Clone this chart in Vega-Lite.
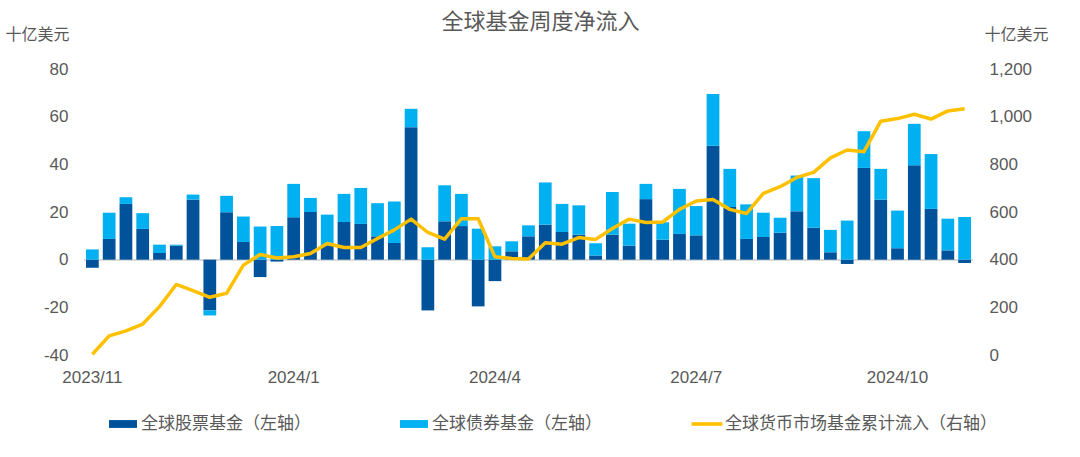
{
  "$schema": "https://vega.github.io/schema/vega-lite/v6.json",
  "width": 889,
  "height": 286,
  "autosize": "none",
  "padding": {"left": 84, "top": 69, "right": 107, "bottom": 102},
  "background": "white",
  "config": {
    "font": "Liberation Sans, Noto Sans CJK SC",
    "view": {"stroke": null},
    "axis": {"grid": false, "ticks": false, "domain": false, "labelColor": "#595959", "labelFontSize": 17, "labelFont": "Liberation Sans"}
  },
  "title": {"text": "全球基金周度净流入", "fontSize": 22, "font": "Noto Sans CJK SC", "fontWeight": "normal", "color": "#595959", "anchor": "middle", "frame": "group", "offset": -8, "dx": 12},
  "data": {"values": [
    {"d": "2023/11/1", "s1": -3.4, "s2": 4.3, "m": 3},
    {"d": "2023/11/8", "s1": 8.7, "s2": 11.0, "m": 80},
    {"d": "2023/11/15", "s1": 23.4, "s2": 2.8, "m": 101},
    {"d": "2023/11/22", "s1": 12.9, "s2": 6.6, "m": 130},
    {"d": "2023/11/29", "s1": 2.8, "s2": 3.5, "m": 203},
    {"d": "2023/12/6", "s1": 5.9, "s2": 0.4, "m": 296},
    {"d": "2023/12/13", "s1": 25.2, "s2": 2.1, "m": 270},
    {"d": "2023/12/20", "s1": -21.3, "s2": -2.1, "m": 242},
    {"d": "2023/12/27", "s1": 19.9, "s2": 6.9, "m": 259},
    {"d": "2024/1/3", "s1": 7.4, "s2": 10.7, "m": 377},
    {"d": "2024/1/10", "s1": -7.3, "s2": 13.9, "m": 422},
    {"d": "2024/1/17", "s1": -0.8, "s2": 14.1, "m": 407},
    {"d": "2024/1/24", "s1": 17.8, "s2": 14.0, "m": 412},
    {"d": "2024/1/31", "s1": 20.0, "s2": 5.9, "m": 426},
    {"d": "2024/2/7", "s1": 6.0, "s2": 12.9, "m": 468},
    {"d": "2024/2/14", "s1": 15.8, "s2": 11.8, "m": 451},
    {"d": "2024/2/21", "s1": 15.0, "s2": 15.1, "m": 451},
    {"d": "2024/2/28", "s1": 9.8, "s2": 13.9, "m": 489},
    {"d": "2024/3/6", "s1": 7.0, "s2": 17.4, "m": 525},
    {"d": "2024/3/13", "s1": 55.6, "s2": 7.7, "m": 570},
    {"d": "2024/3/20", "s1": -21.3, "s2": 5.2, "m": 514},
    {"d": "2024/3/27", "s1": 16.1, "s2": 15.1, "m": 486},
    {"d": "2024/4/3", "s1": 14.1, "s2": 13.5, "m": 572},
    {"d": "2024/4/10", "s1": -19.6, "s2": 13.0, "m": 572},
    {"d": "2024/4/17", "s1": -9.0, "s2": 5.6, "m": 412},
    {"d": "2024/4/24", "s1": 3.5, "s2": 4.2, "m": 405},
    {"d": "2024/5/1", "s1": 9.8, "s2": 4.6, "m": 403},
    {"d": "2024/5/8", "s1": 14.7, "s2": 17.7, "m": 471},
    {"d": "2024/5/15", "s1": 11.6, "s2": 11.8, "m": 465},
    {"d": "2024/5/22", "s1": 10.5, "s2": 12.3, "m": 493},
    {"d": "2024/5/29", "s1": 1.8, "s2": 5.1, "m": 485},
    {"d": "2024/6/5", "s1": 10.5, "s2": 17.9, "m": 531},
    {"d": "2024/6/12", "s1": 5.9, "s2": 9.2, "m": 570},
    {"d": "2024/6/19", "s1": 25.4, "s2": 6.4, "m": 556},
    {"d": "2024/6/26", "s1": 8.4, "s2": 7.3, "m": 558},
    {"d": "2024/7/3", "s1": 10.8, "s2": 18.9, "m": 611},
    {"d": "2024/7/10", "s1": 10.2, "s2": 12.3, "m": 646},
    {"d": "2024/7/17", "s1": 47.8, "s2": 21.7, "m": 652},
    {"d": "2024/7/24", "s1": 22.1, "s2": 16.0, "m": 611},
    {"d": "2024/7/31", "s1": 8.7, "s2": 14.5, "m": 594},
    {"d": "2024/8/7", "s1": 9.5, "s2": 10.2, "m": 678},
    {"d": "2024/8/14", "s1": 11.3, "s2": 6.3, "m": 706},
    {"d": "2024/8/21", "s1": 20.3, "s2": 15.0, "m": 745},
    {"d": "2024/8/28", "s1": 13.4, "s2": 20.8, "m": 766},
    {"d": "2024/9/4", "s1": 3.1, "s2": 9.4, "m": 827},
    {"d": "2024/9/11", "s1": -1.8, "s2": 16.4, "m": 860},
    {"d": "2024/9/18", "s1": 38.5, "s2": 15.4, "m": 853},
    {"d": "2024/9/25", "s1": 25.2, "s2": 12.9, "m": 981},
    {"d": "2024/10/2", "s1": 4.8, "s2": 15.8, "m": 992},
    {"d": "2024/10/9", "s1": 39.6, "s2": 17.4, "m": 1010},
    {"d": "2024/10/16", "s1": 21.3, "s2": 23.0, "m": 990},
    {"d": "2024/10/23", "s1": 3.9, "s2": 13.3, "m": 1024},
    {"d": "2024/10/30", "s1": -1.4, "s2": 17.9, "m": 1033}
  ]},
  "layer": [
    {
      "mark": {"type": "rule", "color": "#D9D9D9", "strokeWidth": 1.3},
      "encoding": {
        "y": {"datum": 0, "type": "quantitative", "scale": {"domain": [-40, 80]}, "axis": null}
      }
    },
    {
      "transform": [{"fold": ["s1", "s2"], "as": ["k", "v"]}],
      "mark": {"type": "bar"},
      "encoding": {
        "x": {
          "field": "d", "type": "ordinal", "sort": null,
          "scale": {"paddingInner": 0.24, "paddingOuter": 0.12},
          "axis": {
            "values": ["2023/11/1", "2024/1/24", "2024/4/17", "2024/7/10", "2024/10/2"],
            "labelExpr": "slice(datum.value, 0, lastindexof(datum.value, '/'))",
            "labelAngle": 0, "labelPadding": 14, "title": null
          }
        },
        "y": {
          "field": "v", "type": "quantitative", "stack": "zero",
          "scale": {"domain": [-40, 80]},
          "axis": {
            "values": [-40, -20, 0, 20, 40, 60, 80],
            "labelExpr": "datum.value + ''",
            "labelPadding": 16,
            "title": "十亿美元", "titleAngle": 0, "titleAlign": "left", "titleBaseline": "middle",
            "titleX": -79, "titleY": -35, "titleFontSize": 16, "titleFontWeight": "normal",
            "titleColor": "#595959", "titleFont": "Noto Sans CJK SC"
          }
        },
        "color": {
          "field": "k", "type": "nominal",
          "scale": {"domain": ["s1", "s2", "mmf"], "range": ["#00529B", "#00B0F0", "#FFC000"]},
          "legend": {
            "orient": "none", "legendX": 25, "legendY": 341, "direction": "horizontal", "title": null,
            "labelExpr": "datum.value == 's1' ? '全球股票基金（左轴）' : datum.value == 's2' ? '全球债券基金（左轴）' : '全球货币市场基金累计流入（右轴）'",
            "labelFont": "Noto Sans CJK SC", "labelFontSize": 17, "labelColor": "#595959", "labelLimit": 500,
            "labelOffset": 4, "columnPadding": 89, "symbolSize": 784,
            "encode": {
              "symbols": {
                "update": {
                  "shape": {"signal": "datum.value == 'mmf' ? 'M-1.1,-0.13H1.1V0.13H-1.1Z' : 'M-1,-0.28H1V0.28H-1Z'"},
                  "fill": {"signal": "datum.value == 's1' ? '#00529B' : datum.value == 's2' ? '#00B0F0' : '#FFC000'"},
                  "stroke": {"value": "transparent"},
                  "strokeWidth": {"value": 0},
                  "opacity": {"value": 1}
                }
              }
            }
          }
        },
        "order": {"field": "k", "sort": "ascending"}
      }
    },
    {
      "mark": {"type": "line", "strokeWidth": 3.5, "strokeJoin": "round"},
      "encoding": {
        "x": {"field": "d", "type": "ordinal", "sort": null},
        "y": {
          "field": "m", "type": "quantitative",
          "scale": {"domain": [0, 1200]},
          "axis": {
            "orient": "right",
            "values": [0, 200, 400, 600, 800, 1000, 1200],
            "labelExpr": "format(datum.value, ',')",
            "labelPadding": 16,
            "title": "十亿美元", "titleAngle": 0, "titleAlign": "left", "titleBaseline": "middle",
            "titleX": 11, "titleY": -35, "titleFontSize": 16, "titleFontWeight": "normal",
            "titleColor": "#595959", "titleFont": "Noto Sans CJK SC"
          }
        },
        "color": {"datum": "mmf"}
      }
    }
  ],
  "resolve": {"scale": {"y": "independent"}}
}
